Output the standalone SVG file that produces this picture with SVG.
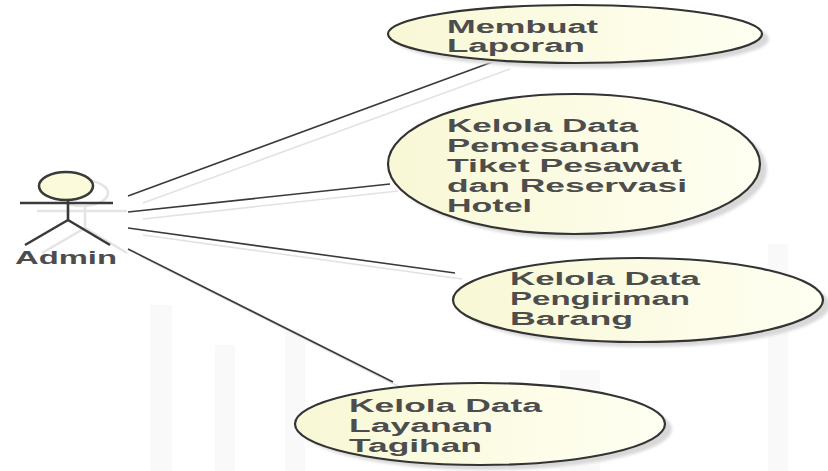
<svg xmlns="http://www.w3.org/2000/svg" width="828" height="471" viewBox="0 0 828 471">
<defs>
<linearGradient id="uc" x1="0" y1="0" x2="1" y2="0">
<stop offset="0" stop-color="#f8f8d6"/>
<stop offset="1" stop-color="#fffff2"/>
</linearGradient>
<filter id="blur" x="-10%" y="-10%" width="120%" height="120%"><feGaussianBlur stdDeviation="1.5"/></filter>
</defs>
<style>
.bg{fill:#f9f9f9}
.uc{fill:url(#uc);stroke:#333;stroke-width:2.2}
.sh{fill:#d8d8d8;filter:url(#blur)}
.ln{stroke:#3a3a3a;stroke-width:1.6;fill:none}
.lns{stroke:#e2e2e2;stroke-width:1.6;fill:none}
.t{font-family:"Liberation Sans",Arial,sans-serif;font-weight:bold;font-size:17.5px;fill:#4d4d4d}
.act{stroke:#3a3a3a;stroke-width:2.6;fill:none}
.acts{stroke:#e4e4e4;stroke-width:2.6;fill:none}
</style>
<rect width="828" height="471" fill="#fff"/>
<g id="watermark">
<rect class="bg" x="150" y="305" width="22" height="166"/>
<rect class="bg" x="215" y="345" width="20" height="126"/>
<rect class="bg" x="285" y="330" width="20" height="141"/>
<rect class="bg" x="768" y="244" width="20" height="227"/>
<rect class="bg" x="560" y="370" width="40" height="101"/>
</g>
<g id="connectors">
<line class="lns" x1="143" y1="203" x2="510" y2="69"/>
<line class="lns" x1="143" y1="219" x2="398" y2="191"/>
<line class="lns" x1="143" y1="235" x2="462" y2="279"/>
<line class="lns" x1="140" y1="256" x2="400" y2="387"/>
<line class="ln" x1="128" y1="196" x2="495" y2="61"/>
<line class="ln" x1="128" y1="212" x2="390" y2="184"/>
<line class="ln" x1="128" y1="228" x2="455" y2="273"/>
<line class="ln" x1="128" y1="249" x2="393" y2="382"/>
</g>
<g id="actor-admin">
<ellipse class="acts" cx="82" cy="193" rx="26" ry="13"/>
<line class="acts" x1="37" y1="211" x2="127" y2="211"/>
<line class="acts" x1="85" y1="207" x2="85" y2="228"/>
<line class="acts" x1="85" y1="228" x2="42" y2="253"/>
<line class="acts" x1="85" y1="228" x2="127" y2="253"/>
<ellipse cx="66" cy="186" rx="27" ry="14" fill="#fbfbdc" stroke="#3a3a3a" stroke-width="2.6"/>
<line class="act" x1="20" y1="203" x2="113" y2="203"/>
<line class="act" x1="68" y1="200" x2="68" y2="220"/>
<line class="act" x1="68" y1="220" x2="25" y2="245"/>
<line class="act" x1="68" y1="220" x2="110" y2="245"/>
<text class="t" x="15" y="264" textLength="102" lengthAdjust="spacingAndGlyphs">Admin</text>
</g>
<g id="uc-membuat-laporan">
<ellipse class="sh" cx="582" cy="39" rx="187" ry="29"/>
<ellipse class="uc" cx="575" cy="34" rx="187" ry="29"/>
<text class="t" x="447" y="33" textLength="151" lengthAdjust="spacingAndGlyphs">Membuat</text>
<text class="t" x="447" y="52" textLength="138" lengthAdjust="spacingAndGlyphs">Laporan</text>
</g>
<g id="uc-pemesanan">
<ellipse class="sh" cx="581" cy="169" rx="186" ry="70"/>
<ellipse class="uc" cx="574" cy="164" rx="186" ry="70"/>
<text class="t" x="447" y="132" textLength="191" lengthAdjust="spacingAndGlyphs">Kelola Data</text>
<text class="t" x="447" y="152" textLength="193" lengthAdjust="spacingAndGlyphs">Pemesanan</text>
<text class="t" x="447" y="172" textLength="235" lengthAdjust="spacingAndGlyphs">Tiket Pesawat</text>
<text class="t" x="447" y="192" textLength="240" lengthAdjust="spacingAndGlyphs">dan Reservasi</text>
<text class="t" x="447" y="212" textLength="85" lengthAdjust="spacingAndGlyphs">Hotel</text>
</g>
<g id="uc-pengiriman">
<ellipse class="sh" cx="645" cy="305" rx="185" ry="42"/>
<ellipse class="uc" cx="638" cy="300" rx="185" ry="42"/>
<text class="t" x="510" y="285" textLength="190" lengthAdjust="spacingAndGlyphs">Kelola Data</text>
<text class="t" x="510" y="305" textLength="180" lengthAdjust="spacingAndGlyphs">Pengiriman</text>
<text class="t" x="510" y="325" textLength="123" lengthAdjust="spacingAndGlyphs">Barang</text>
</g>
<g id="uc-tagihan">
<ellipse class="sh" cx="487" cy="429" rx="185" ry="41"/>
<ellipse class="uc" cx="480" cy="424" rx="185" ry="41"/>
<text class="t" x="349" y="412" textLength="193" lengthAdjust="spacingAndGlyphs">Kelola Data</text>
<text class="t" x="349" y="432" textLength="144" lengthAdjust="spacingAndGlyphs">Layanan</text>
<text class="t" x="349" y="452" textLength="133" lengthAdjust="spacingAndGlyphs">Tagihan</text>
</g>
</svg>
